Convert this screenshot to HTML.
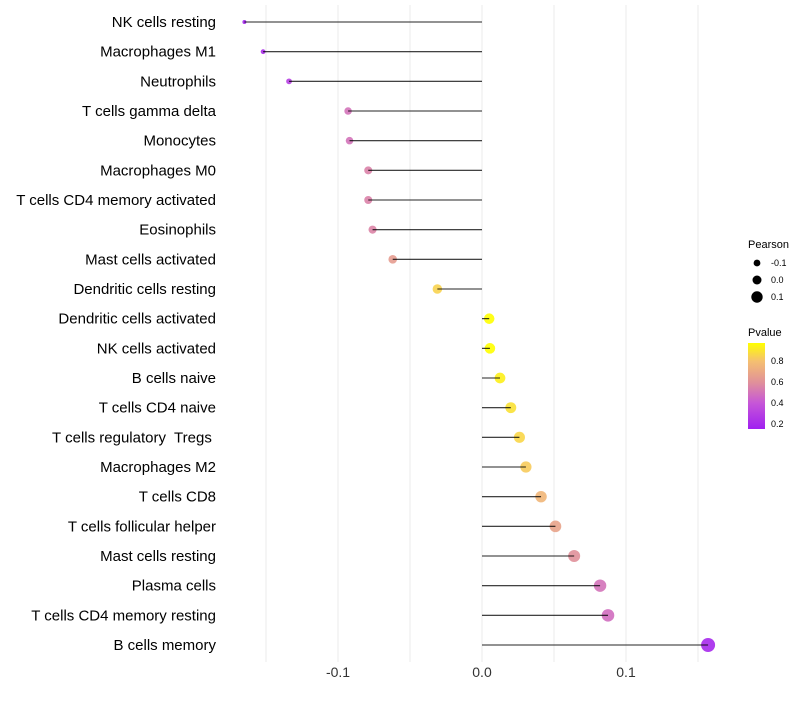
<!DOCTYPE html>
<html><head><meta charset="utf-8"><style>
body{margin:0;background:#fff;}
svg text{font-family:"Liberation Sans",sans-serif;white-space:pre;}
</style></head><body>
<svg id="chart" width="800" height="700" xmlns="http://www.w3.org/2000/svg">
<defs><linearGradient id="pg" x1="0" y1="1" x2="0" y2="0">
<stop offset="0" stop-color="#A020F0"/><stop offset="0.3" stop-color="#C656D8"/><stop offset="0.54" stop-color="#E0909A"/><stop offset="0.79" stop-color="#F5C070"/><stop offset="1" stop-color="#FFFF00"/>
</linearGradient></defs>
<g id="grid"></g>
<g id="marks"></g>
<g id="ylabels"></g>
<g id="xlabels"></g>
<g>
<text x="748" y="248" font-size="11" fill="#000">Pearson</text>
<circle cx="757" cy="263" r="3.4" fill="#000"/><text x="771" y="266" font-size="9">-0.1</text>
<circle cx="757" cy="280" r="4.5" fill="#000"/><text x="771" y="283" font-size="9">0.0</text>
<circle cx="757" cy="297" r="5.7" fill="#000"/><text x="771" y="300" font-size="9">0.1</text>
</g>
<g>
<text x="748" y="336" font-size="11" fill="#000">Pvalue</text>
<rect x="748" y="343" width="17" height="86" fill="url(#pg)"/>
<text x="771" y="364" font-size="9">0.8</text>
<text x="771" y="385" font-size="9">0.6</text>
<text x="771" y="406" font-size="9">0.4</text>
<text x="771" y="427" font-size="9">0.2</text>
</g>
</svg>
<script>
const categories=["NK cells resting","Macrophages M1","Neutrophils","T cells gamma delta","Monocytes","Macrophages M0","T cells CD4 memory activated","Eosinophils","Mast cells activated","Dendritic cells resting","Dendritic cells activated","NK cells activated","B cells naive","T cells CD4 naive","T cells regulatory  Tregs ","Macrophages M2","T cells CD8","T cells follicular helper","Mast cells resting","Plasma cells","T cells CD4 memory resting","B cells memory"];
const pearson=[-0.165,-0.152,-0.134,-0.093,-0.092,-0.079,-0.079,-0.076,-0.062,-0.031,0.005,0.0055,0.0125,0.020,0.026,0.0305,0.041,0.051,0.064,0.082,0.0875,0.157];
const pvalue=[0.18,0.22,0.3,0.5,0.5,0.55,0.55,0.56,0.65,0.85,0.97,0.97,0.93,0.89,0.86,0.83,0.76,0.68,0.6,0.5,0.48,0.2];
const xTicks=[-0.1,0.0,0.1];
const xTickLabels=["-0.1","0.0","0.1"];
const NS="http://www.w3.org/2000/svg";
function X(v){return 482+v*1440;}
function Y(i){return 22+i*29.667;}
function R(v){return Math.sqrt(Math.max(2,27.06+139.75*v));}
function col(p){
  const st=[[0.16,[160,32,240]],[0.4,[198,86,216]],[0.6,[224,144,154]],[0.8,[245,192,112]],[0.97,[255,255,0]]];
  if(p<=st[0][0])return "rgb("+st[0][1]+")";
  for(let k=1;k<st.length;k++){if(p<=st[k][0]){const t=(p-st[k-1][0])/(st[k][0]-st[k-1][0]);const c=st[k-1][1].map((a,j)=>Math.round(a+(st[k][1][j]-a)*t));return "rgb("+c+")";}}
  return "rgb(255,255,0)";
}
function mk(t,a,p){const e=document.createElementNS(NS,t);for(const k in a)e.setAttribute(k,a[k]);p.appendChild(e);return e;}
const grid=document.getElementById('grid'),marks=document.getElementById('marks'),yl=document.getElementById('ylabels'),xl=document.getElementById('xlabels');
for(let g=-0.15;g<=0.151;g+=0.05){
  const l=mk('line',{x1:X(g),x2:X(g),y1:5,y2:662,stroke:'#ebebeb','stroke-width':1},grid);
  
  
}
categories.forEach((c,i)=>{
  const y=Y(i);
  const t=mk('text',{x:216,y:y+5,'font-size':15,'text-anchor':'end',fill:'#000'},yl);t.textContent=c;
  
  
  const d=mk('circle',{cx:X(pearson[i]),cy:y,r:R(pearson[i]),fill:col(pvalue[i]),'fill-opacity':0.9},marks);
  
  
  const s=mk('line',{x1:X(0),x2:X(pearson[i]),y1:y,y2:y,stroke:'#000','stroke-width':1.1,'stroke-opacity':0.85},marks);
  
  
});
xTicks.forEach((v,i)=>{
  const t=mk('text',{x:X(v),y:677,'font-size':14,'text-anchor':'middle',fill:'#333'},xl);t.textContent=xTickLabels[i];
  
  
});
</script>
</body></html>
